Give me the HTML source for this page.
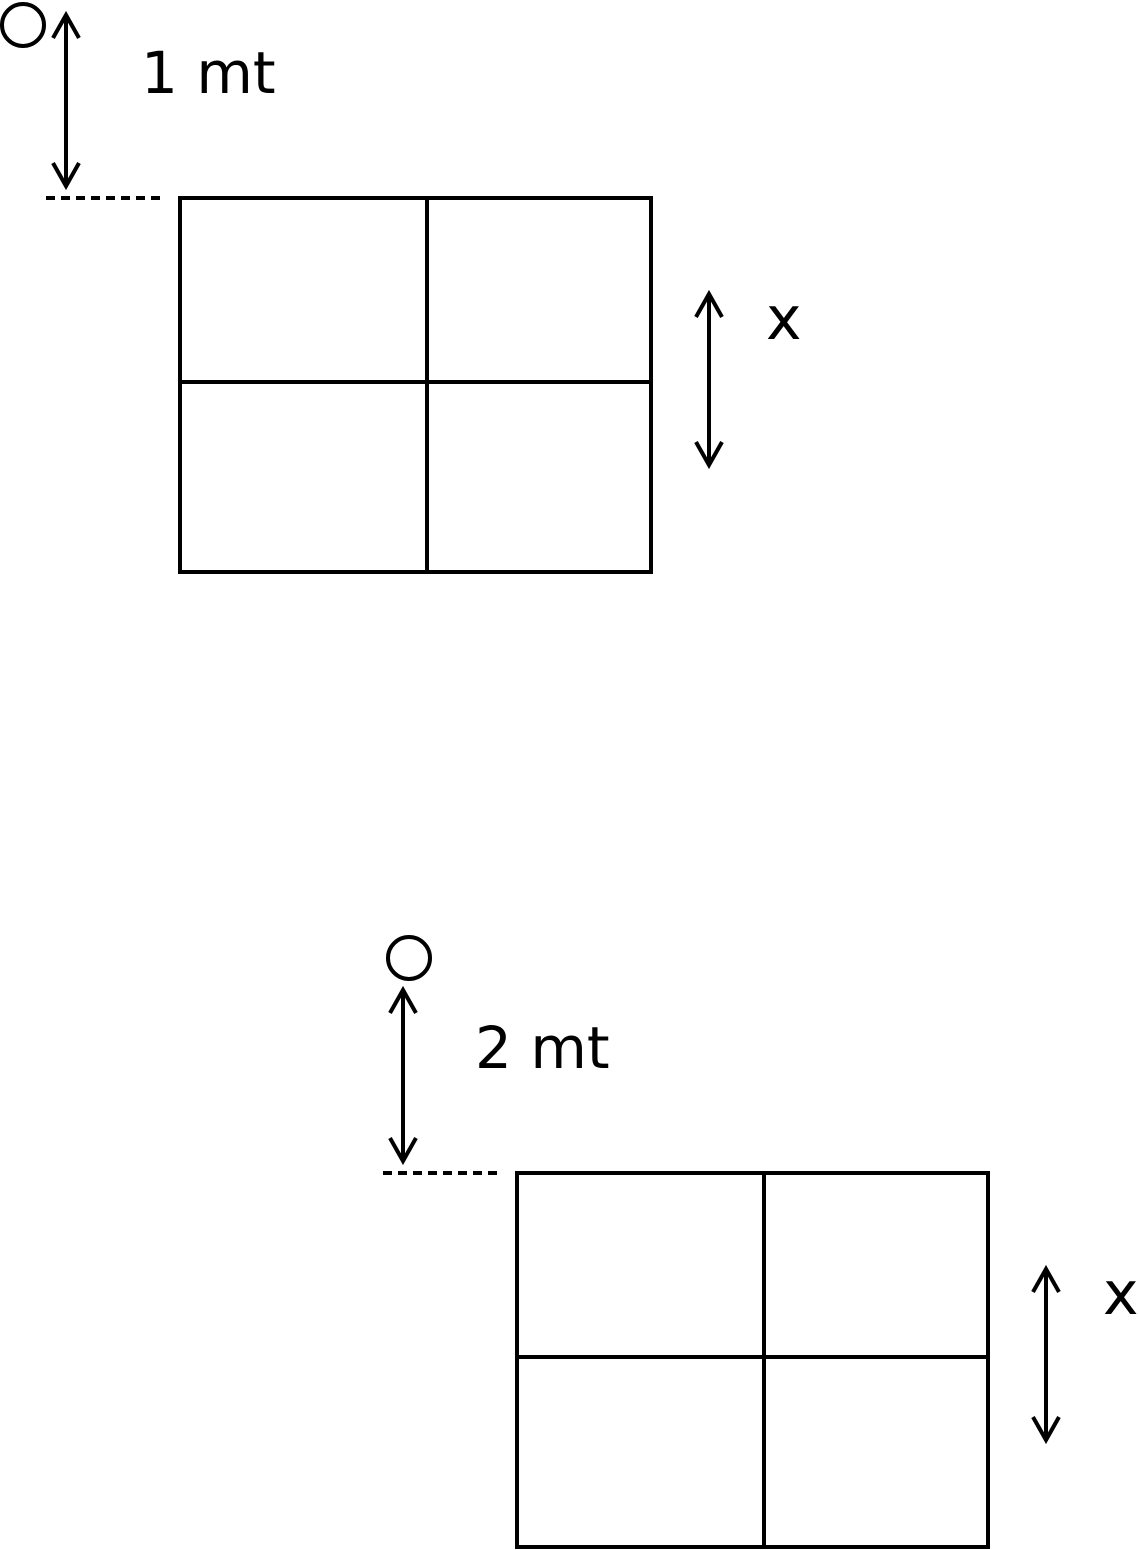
<!DOCTYPE html>
<html><head><style>html,body{margin:0;padding:0;background:#fff}svg{display:block}</style></head>
<body>
<svg width="1139" height="1550" viewBox="0 0 1139 1550" xmlns="http://www.w3.org/2000/svg" fill="none" stroke="#000" stroke-width="4">
<g id="a">
<circle cx="23" cy="25" r="21" stroke-width="4"/>
<line x1="66" y1="15" x2="66" y2="186"/>
<polyline points="53,38 66,15 79,38"/>
<polyline points="53,163 66,186 79,163"/>
<line x1="46" y1="198" x2="166" y2="198" stroke-width="4" stroke-dasharray="9,6"/>
<rect x="180" y="198" width="471" height="374"/>
<line x1="427" y1="198" x2="427" y2="572"/>
<line x1="180" y1="382" x2="651" y2="382"/>
<line x1="709" y1="294" x2="709" y2="465"/>
<polyline points="696,317 709,294 722,317"/>
<polyline points="696,442 709,465 722,442"/>
<text x="141" y="93" font-family="DejaVu Sans, sans-serif" font-size="58" fill="#000" stroke="none">1 mt</text>
<text x="766" y="339" font-family="DejaVu Sans, sans-serif" font-size="60" fill="#000" stroke="none">x</text>
</g>
<g transform="translate(337,975)">
<circle cx="72" cy="-17" r="21"/>
<line x1="66" y1="15" x2="66" y2="186"/>
<polyline points="53,38 66,15 79,38"/>
<polyline points="53,163 66,186 79,163"/>
<line x1="46" y1="198" x2="166" y2="198" stroke-width="4" stroke-dasharray="9,6"/>
<rect x="180" y="198" width="471" height="374"/>
<line x1="427" y1="198" x2="427" y2="572"/>
<line x1="180" y1="382" x2="651" y2="382"/>
<line x1="709" y1="294" x2="709" y2="465"/>
<polyline points="696,317 709,294 722,317"/>
<polyline points="696,442 709,465 722,442"/>
<text x="138" y="93" font-family="DejaVu Sans, sans-serif" font-size="58" fill="#000" stroke="none">2 mt</text>
<text x="766" y="339" font-family="DejaVu Sans, sans-serif" font-size="60" fill="#000" stroke="none">x</text>
</g>
</svg>
</body></html>
